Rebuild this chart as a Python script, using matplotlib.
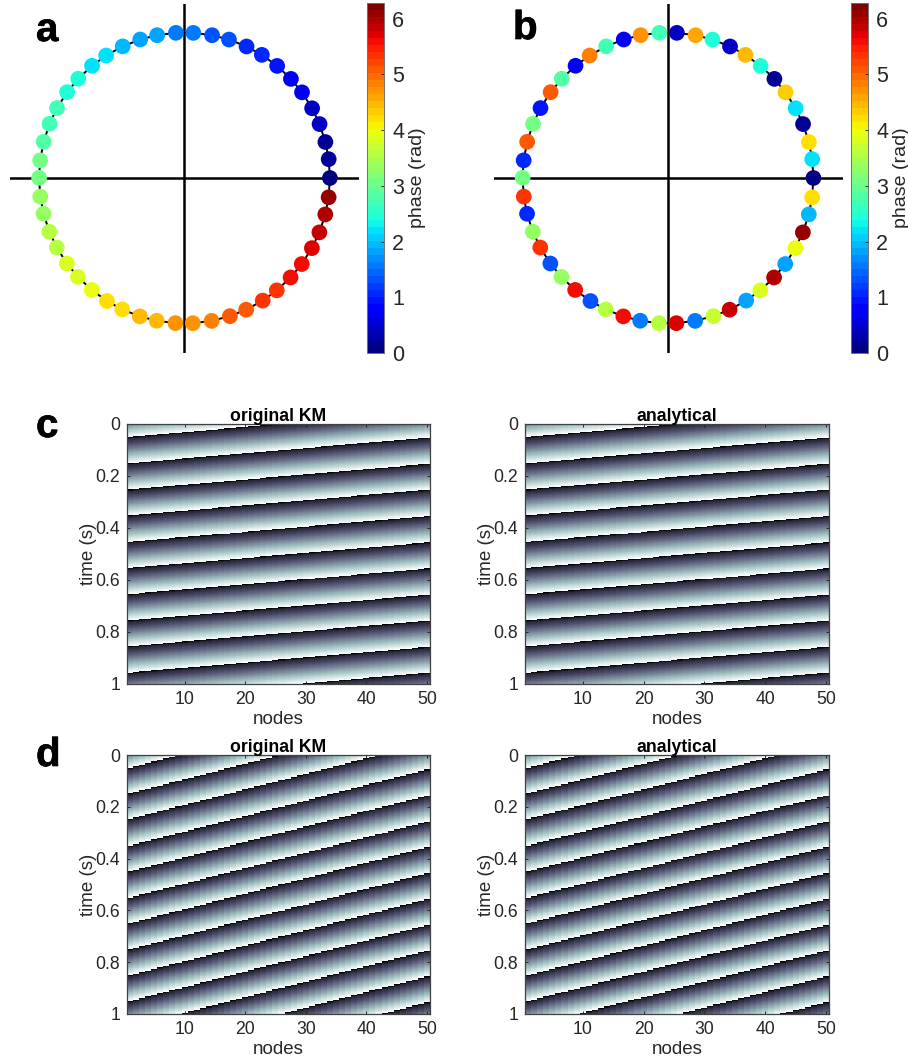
import numpy as np
import matplotlib
matplotlib.use("Agg")
import matplotlib.pyplot as plt
import matplotlib.patheffects as pe
from matplotlib.cm import ScalarMappable
from matplotlib.colors import Normalize, ListedColormap

plt.rcParams['font.family'] = ['Liberation Sans', 'DejaVu Sans']

W, H = 908, 1063

# node phases (rad)
phase_a = [0.00, 0.13, 0.25, 0.38, 0.50, 0.63, 0.75, 0.88, 1.01, 1.13,
           1.26, 1.38, 1.51, 1.63, 1.76, 1.88, 2.01, 2.14, 2.26, 2.39,
           2.51, 2.64, 2.76, 2.89, 3.02, 3.14, 3.27, 3.39, 3.52, 3.64,
           3.77, 3.89, 4.02, 4.15, 4.27, 4.40, 4.52, 4.65, 4.77, 4.90,
           5.03, 5.15, 5.28, 5.40, 5.53, 5.65, 5.78, 5.90, 6.03, 6.15]
phase_b = [0.00, 2.14, 4.20, 0.13, 2.26, 4.32, 0.25, 2.39, 4.44, 0.38,
           2.51, 4.55, 0.50, 2.64, 4.68, 0.63, 2.76, 4.85, 0.75, 2.89,
           5.03, 0.88, 3.02, 5.15, 1.01, 3.14, 5.28, 1.13, 3.27, 5.40,
           1.26, 3.39, 5.53, 1.38, 3.52, 5.65, 1.51, 3.64, 5.78, 1.63,
           3.70, 5.90, 1.76, 3.80, 6.03, 1.88, 3.95, 6.15, 2.01, 4.15]

# heat maps: times at which node 1 wraps, and lag of each node behind node 1 (s)
wraps_c = [-0.046, 0.053, 0.154, 0.255, 0.354, 0.455, 0.556, 0.656, 0.757, 0.856, 0.957, 1.056, 1.156]
wraps_d = [-0.050, 0.049, 0.148, 0.247, 0.350, 0.450, 0.551, 0.650, 0.751, 0.851, 0.951, 1.050, 1.150, 1.250, 1.350]
lag_c = [0.000, 0.002, 0.004, 0.006, 0.008, 0.010, 0.012, 0.014, 0.016, 0.018,
         0.020, 0.022, 0.024, 0.026, 0.028, 0.030, 0.032, 0.034, 0.036, 0.038,
         0.040, 0.042, 0.044, 0.046, 0.048, 0.050, 0.052, 0.054, 0.056, 0.058,
         0.060, 0.062, 0.064, 0.066, 0.068, 0.070, 0.072, 0.074, 0.076, 0.078,
         0.080, 0.082, 0.084, 0.086, 0.088, 0.090, 0.092, 0.094, 0.096, 0.098]
lag_d = [0.000, 0.006, 0.012, 0.018, 0.024, 0.030, 0.036, 0.042, 0.048, 0.054,
         0.060, 0.066, 0.072, 0.078, 0.084, 0.090, 0.096, 0.102, 0.108, 0.114,
         0.120, 0.126, 0.132, 0.138, 0.144, 0.150, 0.156, 0.162, 0.168, 0.174,
         0.180, 0.186, 0.192, 0.198, 0.204, 0.210, 0.216, 0.222, 0.228, 0.234,
         0.240, 0.246, 0.252, 0.258, 0.264, 0.270, 0.276, 0.282, 0.288, 0.294]
time_ticks = [0, 0.2, 0.4, 0.6, 0.8, 1]
time_labels = ['0', '0.2', '0.4', '0.6', '0.8', '1']
node_ticks = [10, 20, 30, 40, 50]
cbar_ticks = [0, 1, 2, 3, 4, 5, 6]
titles = ['original KM', 'analytical']

DARK = '#262626'
jet50 = plt.get_cmap('jet', 50)
norm = Normalize(0, 2 * np.pi)

# bone, with black only in the first few levels so the wrap reads as a thin line
_bone = plt.get_cmap('bone')
_levels = np.r_[[0.0, 0.06, 0.12], np.linspace(0.17, 1.0, 61)]
bone64 = ListedColormap(_bone(_levels))


def px_axes(x0, y0, x1, y1):
    return fig.add_axes([x0 / W, 1 - y1 / H, (x1 - x0) / W, (y1 - y0) / H])


def heat(wraps, lag):
    t = np.arange(0, 1.0005, 0.001)
    rows = np.arange(len(wraps))
    m = np.zeros((len(t), len(lag)))
    for j, d in enumerate(lag):
        m[:, j] = np.interp(t + d, wraps, rows) % 1.0
    return m


fig = plt.figure(figsize=(W / 100, H / 100), dpi=100)

# circle panels
for phases, (x0, cx0) in zip([phase_a, phase_b], [(10, 367), (493.5, 851)]):
    ax = px_axes(x0, 3.5, x0 + 349, 352.5)
    theta = np.array(phase_a)
    ax.set_xlim(-1.2, 1.2)
    ax.set_ylim(-1.2, 1.2)
    ax.axis('off')
    ax.axhline(0, color='k', lw=1.8, zorder=1)
    ax.axvline(0, color='k', lw=1.8, zorder=1)
    ax.plot(np.r_[np.cos(theta), np.cos(theta[0])], np.r_[np.sin(theta), np.sin(theta[0])],
            color='k', lw=1.4, zorder=2)
    ax.scatter(np.cos(theta), np.sin(theta), c=phases, cmap=jet50, norm=norm,
               s=128, linewidths=0, zorder=3, clip_on=False)
    cax = px_axes(cx0, 3, cx0 + 17, 353)
    cb = fig.colorbar(ScalarMappable(norm=norm, cmap=jet50), cax=cax)
    cb.set_ticks(cbar_ticks)
    cb.ax.tick_params(labelsize=15.5, length=2, width=0.7, direction='in', colors=DARK, pad=6)
    cb.outline.set_edgecolor('#707070')
    cb.outline.set_linewidth(0.7)
    cb.set_label('phase (rad)', fontsize=14, color=DARK, labelpad=3)

# heat map panels
for wraps, lag, (y0, y1) in [(wraps_c, lag_c, (424, 684)), (wraps_d, lag_d, (755, 1014))]:
    mat = heat(wraps, lag)
    for (x0, x1), title in zip([(127, 430), (525, 829)], titles):
        ax = px_axes(x0, y0, x1, y1)
        ax.imshow(mat, cmap=bone64, vmin=0, vmax=1, aspect='auto',
                  extent=[0.5, 50.5, 1, 0], interpolation='nearest')
        ax.set_xticks(node_ticks)
        ax.set_yticks(time_ticks)
        ax.set_yticklabels(time_labels)
        ax.tick_params(direction='in', length=2.5, width=0.7, top=True, right=True,
                       labelsize=12.7, colors=DARK, pad=5)
        for s in ax.spines.values():
            s.set_color('#404040')
            s.set_linewidth(0.9)
        ax.set_xlabel('nodes', fontsize=13.5, color=DARK, labelpad=2)
        ax.set_ylabel('time (s)', fontsize=13.5, color=DARK, labelpad=-1)
        ax.set_title(title, fontsize=12.7, fontweight='bold', color='k', pad=2)

# panel letters
for s, x, y in [('a', 36, 30), ('b', 513, 28), ('c', 36, 426), ('d', 36, 755)]:
    fig.text(x / W, 1 - y / H, s, fontsize=29, fontweight='bold', color='k',
             ha='left', va='center',
             path_effects=[pe.withStroke(linewidth=0.5, foreground='k')])

fig.savefig('out.png', dpi=100)
